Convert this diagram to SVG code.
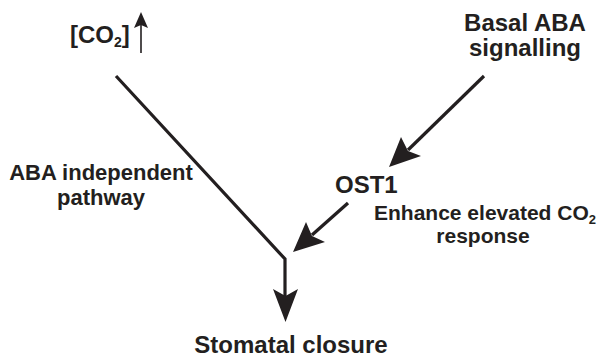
<svg xmlns="http://www.w3.org/2000/svg" width="600" height="359" viewBox="0 0 600 359">
<style>
.t{font-family:"Liberation Sans",Arial,sans-serif;font-weight:bold;font-size:24px;fill:#231f20}
.s{font-size:22px}
.e{font-size:21px}
.ln{stroke:#231f20;stroke-width:3.2;fill:none}
.thin{stroke:#231f20;stroke-width:1.6;fill:none}
.head{fill:#231f20}
</style>
<rect width="600" height="359" fill="#fff"/>
<g id="co2">
<text class="t" x="70" y="43">[CO<tspan font-size="14" dy="4">2</tspan><tspan dy="-4">]</tspan></text>
<line class="thin" x1="141" y1="53" x2="141" y2="24"/>
<polygon class="head" points="141,12 134,28 141,25 148,28"/>
</g>
<g id="basal">
<text class="t" x="525" y="31" text-anchor="middle">Basal ABA</text>
<text class="t" x="525" y="56" text-anchor="middle">signalling</text>
</g>
<g id="aba-indep">
<text class="t s" x="101" y="180" text-anchor="middle">ABA independent</text>
<text class="t s" x="101" y="205" text-anchor="middle">pathway</text>
</g>
<g id="ost1">
<text class="t" x="335" y="193">OST1</text>
</g>
<g id="enhance">
<text class="t e" x="374" y="220">Enhance elevated CO<tspan font-size="13" dy="4">2</tspan></text>
<text class="t e" x="483" y="243" text-anchor="middle">response</text>
</g>
<g id="closure">
<text class="t" x="291" y="353" text-anchor="middle">Stomatal closure</text>
</g>
<g id="connectors">
<polyline class="ln" points="116,76 285,259 285,296"/>
<polygon class="head" points="285.5,322 273,289 285.5,296 298,289"/>
<line class="ln" x1="484" y1="76" x2="408" y2="150"/>
<polygon class="head" points="389,167 401,137 408,151 421,156"/>
<line class="ln" x1="348" y1="203" x2="312" y2="235"/>
<polygon class="head" points="293,252 306,222 312,236 325,242"/>
</g>
</svg>
